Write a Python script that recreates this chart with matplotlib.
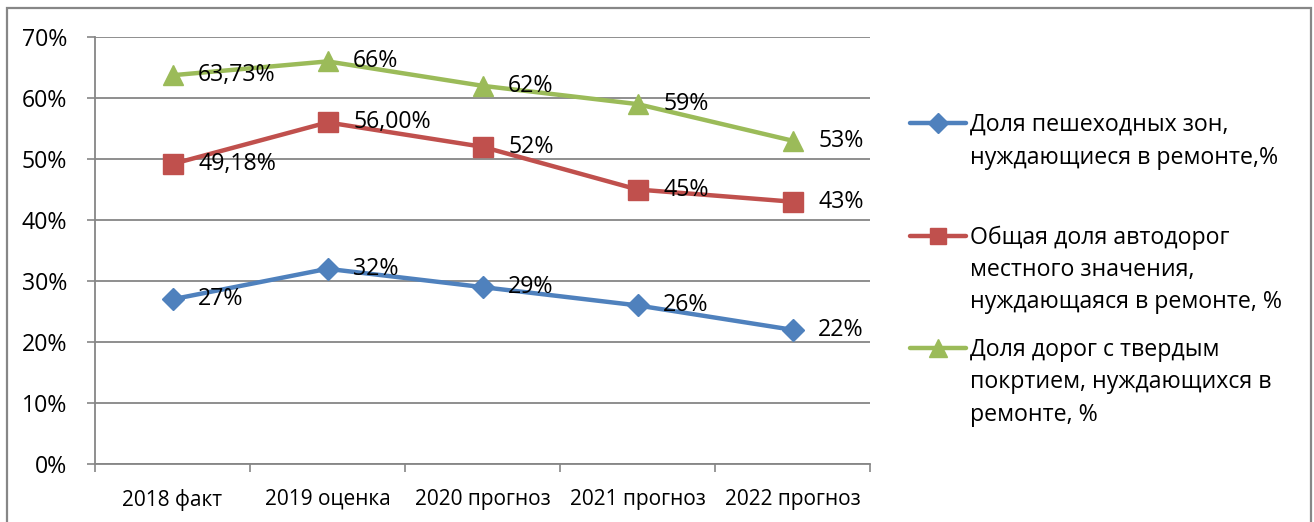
import matplotlib
matplotlib.use("Agg")
import matplotlib.pyplot as plt
from matplotlib.lines import Line2D
from matplotlib.patches import Rectangle
from matplotlib.ticker import FuncFormatter

categories = ["2018 факт", "2019 оценка", "2020 прогноз", "2021 прогноз", "2022 прогноз"]
series_names = [
    ["Доля пешеходных зон,", "нуждающиеся в ремонте,%"],
    ["Общая доля автодорог", "местного значения,", "нуждающаяся в ремонте, %"],
    ["Доля дорог с твердым", "покртием, нуждающихся в", "ремонте, %"],
]
pedestrian = [27, 32, 29, 26, 22]
local_roads = [49.18, 56.00, 52, 45, 43]
hard_surface = [63.73, 66, 62, 59, 53]
label_texts = [
    ["27%", "32%", "29%", "26%", "22%"],
    ["49,18%", "56,00%", "52%", "45%", "43%"],
    ["63,73%", "66%", "62%", "59%", "53%"],
]
yticks = [0, 10, 20, 30, 40, 50, 60, 70]

colors = ["#4F81BD", "#C0504D", "#9BBB59"]
markers = ["D", "s", "^"]
msizes = [11.5, 14, 15]
legend_msizes = [10, 12, 12.5]

plt.rcParams["font.family"] = ["Open Sans", "DejaVu Sans"]
FS = 16.7

W, H = 1314, 522
fig = plt.figure(figsize=(W / 100, H / 100), dpi=100)
ax = fig.add_axes([95 / W, 1 - 464 / H, (870 - 95) / W, (464 - 37) / H])

x = list(range(len(categories)))
all_series = [pedestrian, local_roads, hard_surface]
for vals, c, m, ms, labs in zip(all_series, colors, markers, msizes, label_texts):
    ax.plot(x, vals, color=c, lw=3.2, marker=m, ms=ms, mec=c, mfc=c, zorder=3, clip_on=False)
    for xi, v, t in zip(x, vals, labs):
        ax.annotate(t, (xi, v), xytext=(18.5, 0), textcoords="offset points",
                    ha="left", va="center", fontsize=FS, color="black", zorder=4)

ax.set_xlim(-0.5, len(categories) - 0.5)
ax.set_ylim(0, 70)
ax.set_yticks(yticks)
ax.yaxis.set_major_formatter(FuncFormatter(lambda v, p: f"{int(v)}%"))
ax.set_xticks([i - 0.5 for i in range(len(categories) + 1)])
ax.set_xticklabels([])
ax.set_xticks(x, minor=True)
ax.set_xticklabels(categories, minor=True, fontsize=15)
ax.tick_params(axis="x", which="minor", length=0, pad=18)
ax.tick_params(axis="x", which="major", length=6, width=1.2, color="#868686", direction="out")
ax.tick_params(axis="y", length=6, width=1.2, color="#868686", labelsize=FS, pad=14)
ax.grid(axis="y", color="#868686", lw=1.3, zorder=0)
for s in ["top", "right"]:
    ax.spines[s].set_visible(False)
for s in ["left", "bottom"]:
    ax.spines[s].set_color("#868686")
    ax.spines[s].set_linewidth(1.3)

# legend drawn manually to match the uneven spacing of the original
legend_line_centers = [[123, 156], [236, 268, 300], [348, 380, 413]]
for lines, c, m, ms, centers in zip(series_names, colors, markers, legend_msizes, legend_line_centers):
    yf = 1 - centers[0] / H
    fig.add_artist(Line2D([910 / W, 966 / W], [yf, yf], color=c, lw=3.2,
                          solid_capstyle="round", transform=fig.transFigure))
    fig.add_artist(Line2D([938 / W], [yf], color=c, marker=m, ms=ms, mec=c, mfc=c,
                          transform=fig.transFigure))
    for line, yc in zip(lines, centers):
        fig.text(970 / W, 1 - (yc + 8) / H, line, ha="left", va="baseline", fontsize=FS)

fig.add_artist(Rectangle((7 / W, -0.02), (1311 - 7) / W, 1 - 8 / H + 0.02, fill=False,
                         edgecolor="#878787", lw=1.6, transform=fig.transFigure))

fig.savefig("out.png", dpi=100, facecolor="white")
